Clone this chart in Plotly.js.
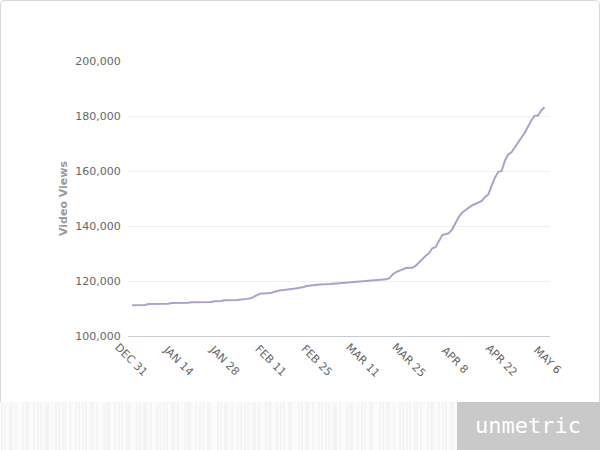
<!DOCTYPE html>
<html>
<head>
<meta charset="utf-8">
<script src="https://cdn.plot.ly/plotly-3.0.1.min.js"></script>
<style>
  html, body { margin: 0; padding: 0; background: #ffffff; }
  #chart { width: 600px; height: 450px; }
</style>
</head>
<body>
<div id="chart"></div>
<script>
// Daily video views, first value is Dec 31 2012
const startDate = [2012, 11, 31];
const videoViews = [
  111200, 111200, 111200, 111200, 111300, 111600, 111600, 111600, 111600, 111600,
  111700, 111700, 112000, 112000, 112000, 112000, 112000, 112100, 112300, 112300,
  112300, 112300, 112400, 112400, 112400, 112600, 112600, 112700, 113000, 113000,
  113000, 113000, 113100, 113300, 113300, 113500, 113700, 114300, 115200, 115500,
  115500, 115500, 115600, 116000, 116400, 116600, 116700, 116800, 117000, 117200,
  117400, 117500, 117800, 118200, 118400, 118500, 118600, 118700, 118700, 118800,
  118900, 119000, 119100, 119100, 119200, 119400, 119500, 119600, 119700, 119800,
  119900, 120000, 120200, 120300, 120400, 120500, 120500, 120600, 121000, 122400,
  123200, 123800, 124200, 124700, 124800, 124800, 125600, 126900, 127800, 129200,
  130100, 131900, 132300, 134600, 136700, 137000, 137400, 138700, 141200, 143300,
  144800, 145800, 146800, 147500, 148000, 148500, 149100, 150600, 151500, 154800,
  157600, 159700, 160000, 163800, 166000, 166800, 168500, 170300, 171800, 173900,
  176100, 178400, 180100, 180100, 182000, 183200
];

const tickDates = ['2012-12-31', '2013-01-14', '2013-01-28', '2013-02-11', '2013-02-25',
  '2013-03-11', '2013-03-25', '2013-04-08', '2013-04-22', '2013-05-06'];
const tickLabels = ['DEC 31', 'JAN 14', 'JAN 28', 'FEB 11', 'FEB 25',
  'MAR 11', 'MAR 25', 'APR 8', 'APR 22', 'MAY 6'];
const yTicks = [100000, 120000, 140000, 160000, 180000, 200000];

const days = videoViews.map((v, i) => {
  const d = new Date(Date.UTC(startDate[0], startDate[1], startDate[2] + i));
  return d.toISOString().slice(0, 10);
});

// plot area in pixels: x 128..550, y 61..336
const px = (x) => (x - 128) / 422;
const py = (y) => (336 - y) / 275;

const shapes = [];
// frame with rounded corners
const r = 5;
shapes.push({
  type: 'path', xref: 'paper', yref: 'paper', layer: 'below',
  path: 'M ' + px(0.5) + ',' + py(402) +
        ' L ' + px(0.5) + ',' + py(r) +
        ' Q ' + px(0.5) + ',' + py(0.5) + ' ' + px(r) + ',' + py(0.5) +
        ' L ' + px(599.5 - r) + ',' + py(0.5) +
        ' Q ' + px(599.5) + ',' + py(0.5) + ' ' + px(599.5) + ',' + py(r) +
        ' L ' + px(599.5) + ',' + py(402),
  line: { color: '#d8d8d8', width: 1 }
});
// footer strip
shapes.push({
  type: 'rect', xref: 'paper', yref: 'paper', layer: 'above',
  x0: px(0), x1: px(457), y0: py(450), y1: py(402),
  fillcolor: '#fbfbfb', line: { width: 0 }
});
const gaps = [3, 5, 2, 4, 7, 3, 2, 6, 4, 3, 5, 2, 8, 3, 4, 2, 5, 6, 3, 4];
let sx = 2;
let k = 0;
while (sx < 455) {
  shapes.push({
    type: 'line', xref: 'paper', yref: 'paper', layer: 'above',
    x0: px(sx), x1: px(sx), y0: py(450), y1: py(402),
    line: { color: '#eeeeee', width: 1 }
  });
  sx += gaps[k % gaps.length];
  k++;
}
shapes.push({
  type: 'rect', xref: 'paper', yref: 'paper', layer: 'above',
  x0: px(457), x1: px(600), y0: py(450), y1: py(402),
  fillcolor: '#c9c9c9', line: { width: 0 }
});

const annotations = tickDates.map((d, i) => ({
  x: d, y: py(360), xref: 'x', yref: 'paper',
  text: tickLabels[i], showarrow: false, textangle: 45,
  xanchor: 'center', yanchor: 'middle',
  font: { family: 'DejaVu Sans', size: 11, color: '#666666' }
}));
annotations.push({
  x: px(528), y: py(425), xref: 'paper', yref: 'paper',
  text: 'unmetric', showarrow: false,
  xanchor: 'center', yanchor: 'middle',
  font: { family: 'DejaVu Sans Mono', size: 22, color: '#ffffff' }
});

const trace = {
  x: days,
  y: videoViews,
  type: 'scatter',
  mode: 'lines',
  line: { color: '#a3a5cc', width: 2 },
  hoverinfo: 'x+y'
};

const layout = {
  width: 600,
  height: 450,
  margin: { l: 128, r: 50, t: 61, b: 114 },
  paper_bgcolor: '#ffffff',
  plot_bgcolor: '#ffffff',
  showlegend: false,
  xaxis: {
    type: 'date',
    range: ['2012-12-29 19:12', '2013-05-06 16:00'],
    showgrid: false,
    zeroline: false,
    showline: true,
    linecolor: '#c8ccd2',
    linewidth: 1,
    showticklabels: false,
    ticks: ''
  },
  yaxis: {
    range: [100000, 200000],
    tickvals: yTicks,
    tickformat: ',',
    gridcolor: '#f0f0f0',
    zeroline: false,
    ticks: 'outside',
    ticklen: 4,
    tickcolor: 'rgba(0,0,0,0)',
    tickfont: { family: 'DejaVu Sans', size: 11, color: '#666666' },
    title: {
      text: 'Video Views',
      standoff: 5,
      font: { family: 'DejaVu Sans', size: 11, color: '#9a9a9a', weight: 'bold' }
    },
    automargin: false
  },
  shapes: shapes,
  annotations: annotations
};

Plotly.newPlot('chart', [trace], layout, { displayModeBar: false });
</script>
</body>
</html>
